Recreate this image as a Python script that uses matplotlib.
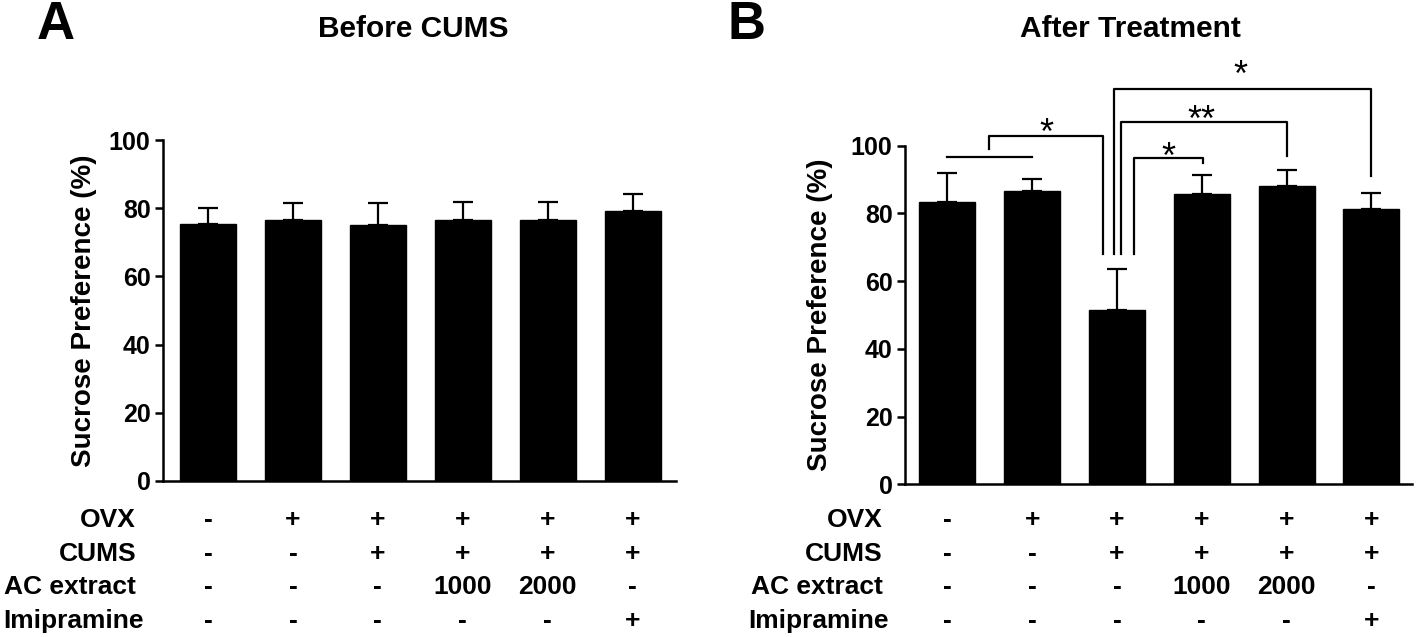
import numpy as np
import matplotlib
matplotlib.use("Agg")
import matplotlib.pyplot as plt
from matplotlib.transforms import blended_transform_factory

plt.rcParams["font.family"] = ["Liberation Sans", "DejaVu Sans"]
plt.rcParams["font.weight"] = "bold"

# ── data ────────────────────────────────────────────────────────────────────
groups = np.arange(6)
before_mean = [75.5, 76.5, 75.1, 76.6, 76.5, 79.2]
before_sem = [4.5, 4.9, 6.3, 5.3, 5.4, 5.0]
after_mean = [83.5, 86.7, 51.5, 85.7, 88.2, 81.4]
after_sem = [8.3, 3.4, 12.1, 5.6, 4.6, 4.5]

row_labels = ["OVX", "CUMS", "AC extract", "Imipramine"]
row_values = [
    ["-", "+", "+", "+", "+", "+"],
    ["-", "-", "+", "+", "+", "+"],
    ["-", "-", "-", "1000", "2000", "-"],
    ["-", "-", "-", "-", "-", "+"],
]

# significance brackets in panel B: (left x, left y, right x, right y, top y, star x, label)
brackets = [
    (0.49, 98.9, 1.83, 68.1, 102.9, 1.17, "*"),
    (1.96, 68.0, 5.00, 91.0, 116.8, 3.45, "*"),
    (2.05, 68.0, 4.00, 97.0, 106.9, 2.99, "**"),
    (2.20, 68.0, 3.02, 94.8, 96.3, 2.61, "*"),
]
star_y = [107.1, 124.0, 111.0, 100.0]

W, H = 1418, 637
fig = plt.figure(figsize=(W / 100, H / 100), dpi=100)

axA = fig.add_axes([163 / W, 1 - 481 / H, 513 / W, 341 / H])
axB = fig.add_axes([905 / W, 1 - 484.3 / H, 507 / W, 338.6 / H])


def draw_panel(ax, means, sems, xlim, ylabel_right_px, row_right_px):
    ax.bar(groups, means, width=0.66, color="black", edgecolor="black", zorder=2)
    ax.errorbar(groups, means, yerr=[np.zeros(6), sems], fmt="none",
                ecolor="black", elinewidth=1.6, capsize=7.5, capthick=1.6, zorder=1)
    ax.set_xlim(*xlim)
    ax.set_ylim(0, 100)
    ax.set_yticks(np.arange(0, 101, 20))
    ax.set_xticks([])
    for s in ["top", "right"]:
        ax.spines[s].set_visible(False)
    for s in ["left", "bottom"]:
        ax.spines[s].set_linewidth(1.8)
    ax.tick_params(axis="y", direction="out", length=6, width=1.8,
                   labelsize=18, pad=3)
    ax.set_ylabel("Sucrose Preference (%)", fontsize=20, fontweight="bold")
    pos = ax.get_position()
    ax.yaxis.set_label_coords((ylabel_right_px / W - pos.x0) / pos.width, 0.5)

    # treatment table under the bars
    tr = blended_transform_factory(ax.transData, fig.transFigure)
    baselines = [527, 561, 594, 628]
    for r, (name, vals) in enumerate(zip(row_labels, row_values)):
        yb = 1 - baselines[r] / H
        fig.text(row_right_px[r] / W, yb, name, ha="right", va="baseline", fontsize=19)
        for i, v in enumerate(vals):
            ax.text(i, yb, v, transform=tr, ha="center", va="baseline",
                    fontsize=19, clip_on=False)


draw_panel(axA, before_mean, before_sem, (-0.529, 5.51), 97, [136, 136, 136, 144])
draw_panel(axB, after_mean, after_sem, (-0.50, 5.48), 833, [883, 883, 883, 889])

# panel B annotations
axB.plot([0, 1], [96.6, 96.6], color="black", lw=1.6, clip_on=False)
for (xl, yl, xr, yr, yt, xs, lab), ys in zip(brackets, star_y):
    axB.plot([xl, xl, xr, xr], [yl, yt, yt, yr], color="black", lw=1.6,
             clip_on=False)
    axB.text(xs, ys - 6.5, lab, ha="center", va="baseline", fontsize=26,
             fontweight="normal", clip_on=False)

# titles and panel letters
fig.text(413 / W, 1 - 37 / H, "Before CUMS", ha="center", va="baseline", fontsize=21.5)
fig.text(1130 / W, 1 - 37 / H, "After Treatment", ha="center", va="baseline", fontsize=21.5)
fig.text(56 / W, 1 - 39 / H, "A", ha="center", va="baseline", fontsize=38)
fig.text(747 / W, 1 - 39 / H, "B", ha="center", va="baseline", fontsize=38)

fig.savefig("out.png", dpi=100)
